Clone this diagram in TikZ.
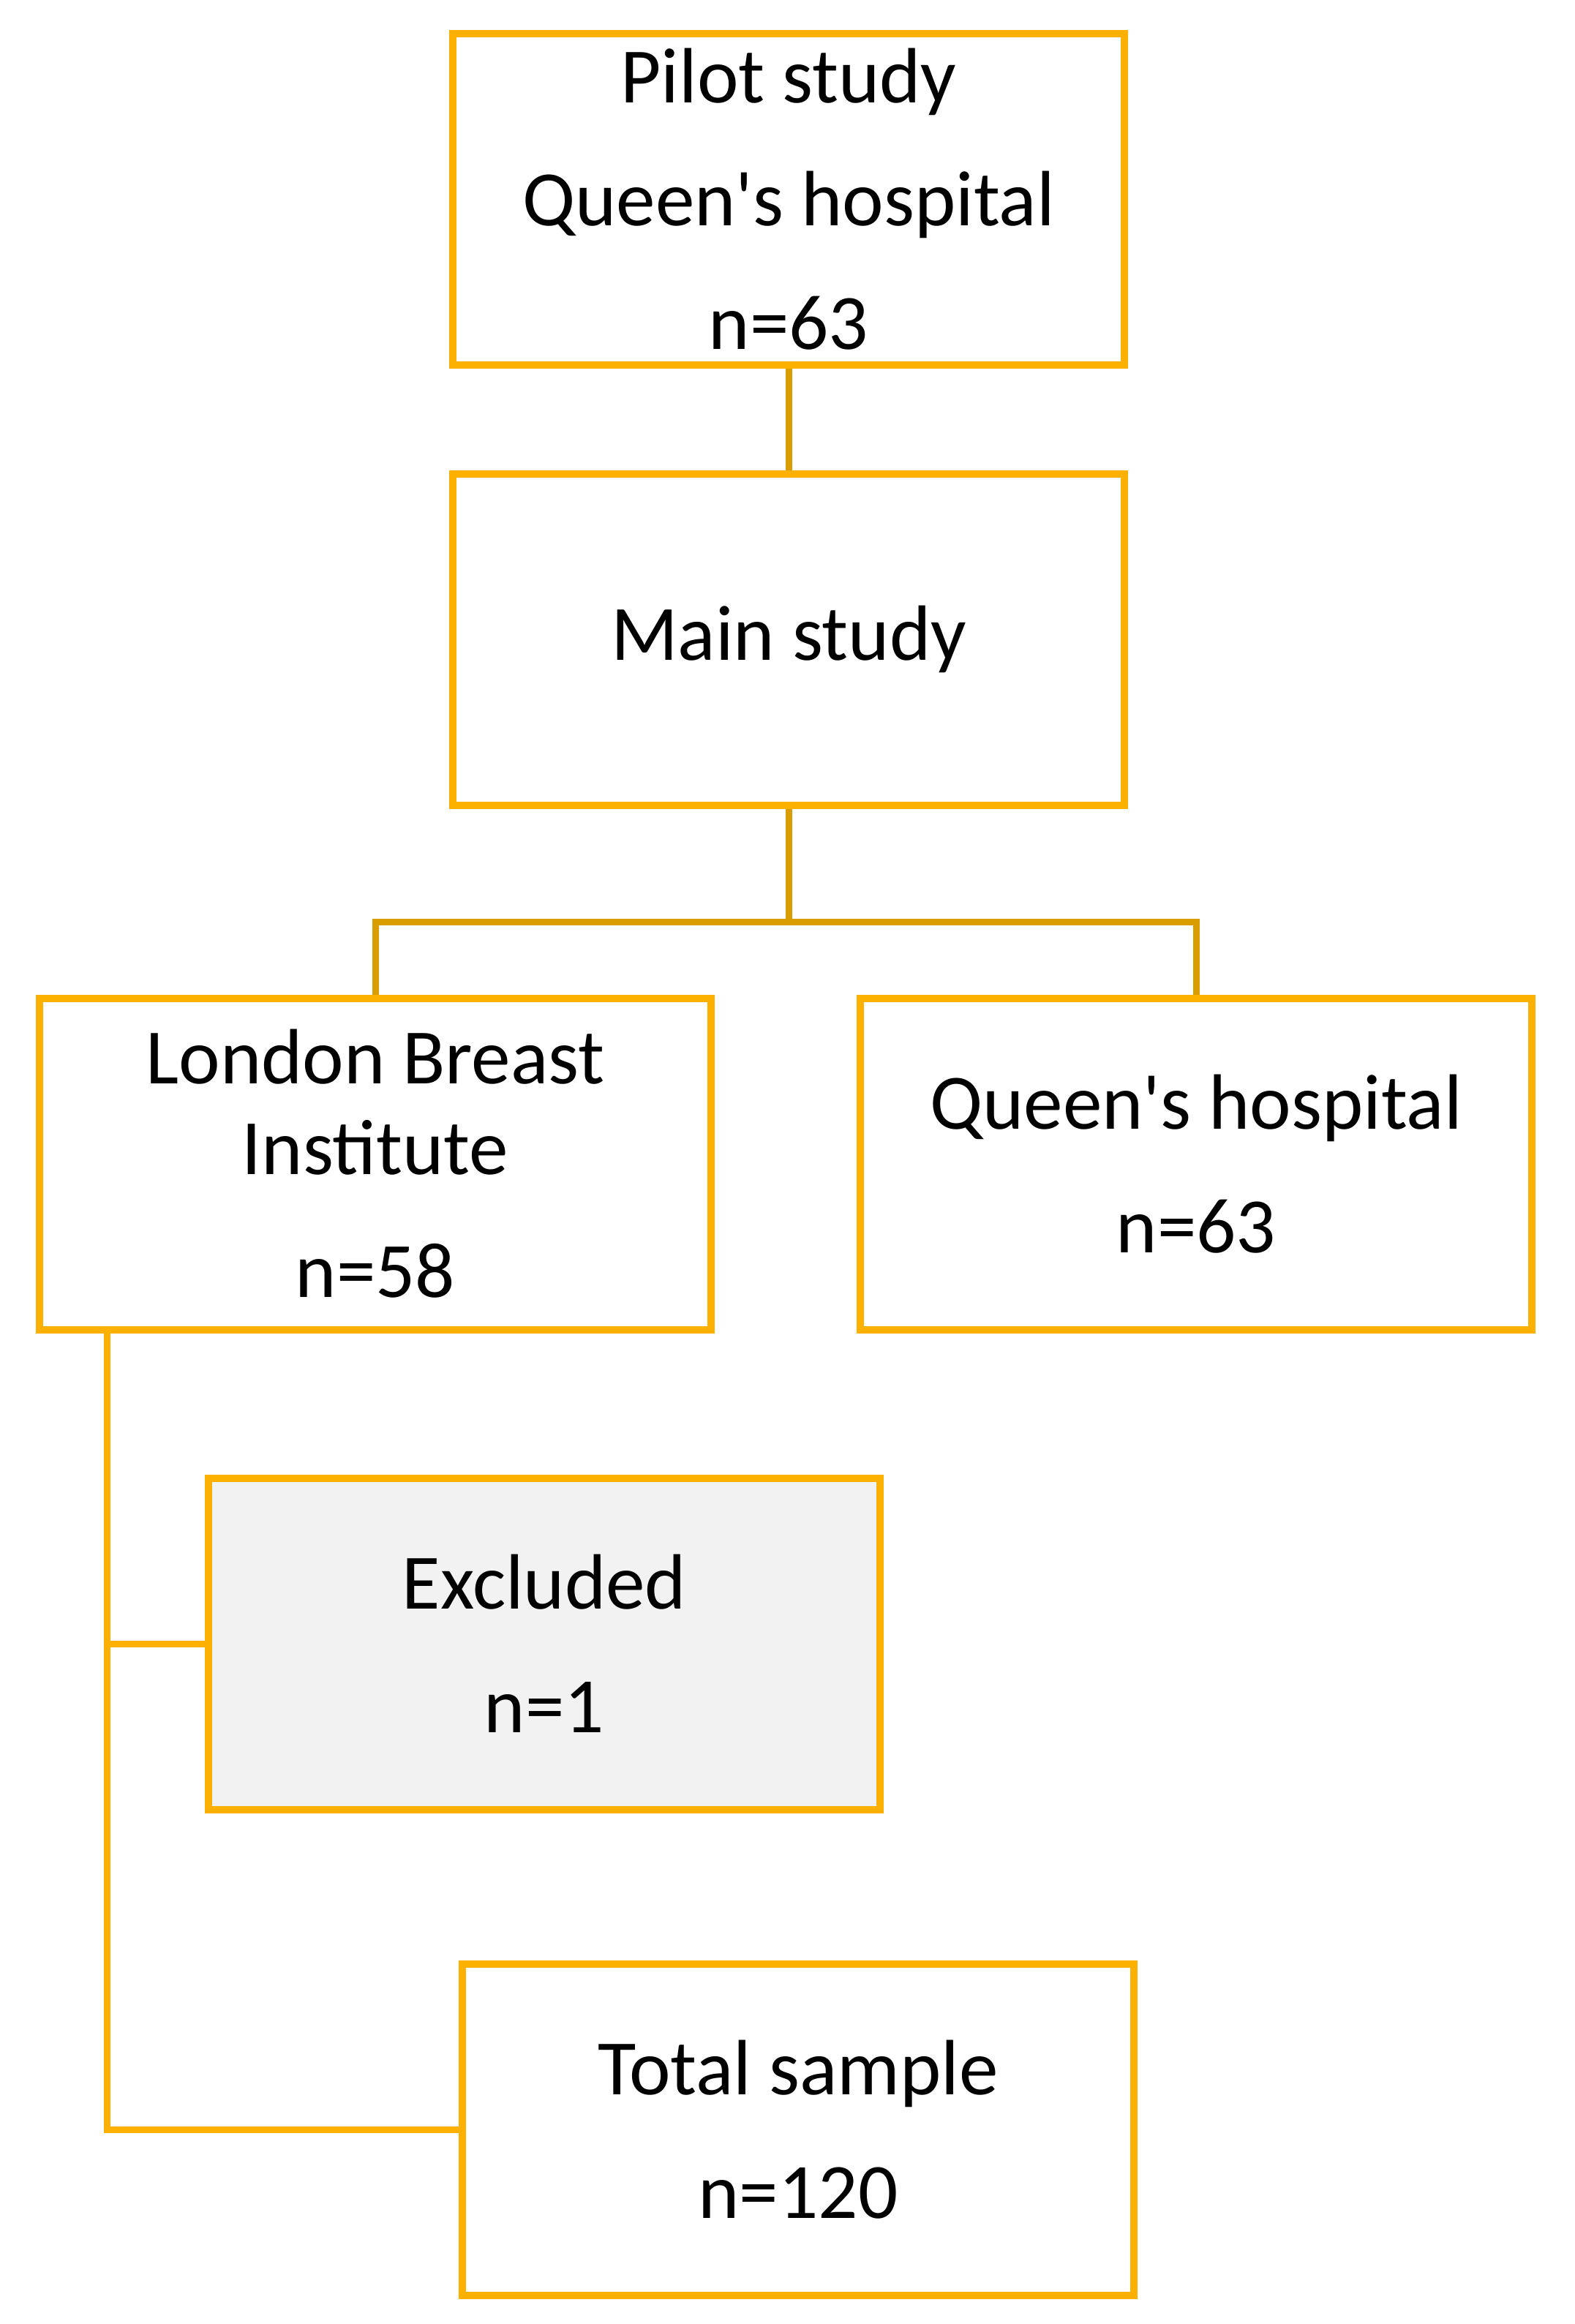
\documentclass[tikz,border=0pt]{standalone}
\usepackage{fontspec}
\setmainfont{Carlito}
\usepackage{tikz}
\usetikzlibrary{calc,positioning}
\definecolor{boxgold}{HTML}{FCB000}
\definecolor{linkgold}{HTML}{DA9D00}
\definecolor{exclgray}{HTML}{F2F2F2}

\tikzset{
  stagebox/.style={draw=boxgold, line width=0.1cm, fill=white, align=center,
    minimum width=9.18cm, minimum height=4.53cm, inner sep=0pt,
    font=\fontsize{30.5}{48}\selectfont},
  toplink/.style={draw=linkgold, line width=0.09cm},
  lowlink/.style={draw=boxgold, line width=0.09cm}
}

\begin{document}
\begin{tikzpicture}
\useasboundingbox (0cm,0cm) rectangle (21.52cm,-31.77cm);
\node[stagebox] (pilot) at (10.78cm,-2.72cm) {Pilot study\\Queen\textquotesingle s hospital\\n=63};
\node[stagebox] (main) at (10.78cm,-8.74cm) {Main study};
\node[stagebox] (london) at (5.13cm,-15.91cm) {London Breast\\[-13pt]Institute\\n=58};
\node[stagebox] (queen) at (16.35cm,-15.91cm) {Queen\textquotesingle s hospital\\n=63};
\node[stagebox, fill=exclgray] (excl) at (7.44cm,-22.47cm) {Excluded\\n=1};
\node[stagebox] (total) at (10.91cm,-29.11cm) {Total sample\\n=120};
\coordinate (split) at (10.78cm,-12.60cm);
\draw[toplink] (pilot) -- (main);
\draw[toplink] (main) -- (split);
\draw[toplink] (london.north) |- (split) -| (queen.north);
\draw[lowlink] ([xshift=0.97cm]london.south west) |- (excl.west);
\draw[lowlink] ([xshift=0.97cm]london.south west) |- (total.west);
\end{tikzpicture}
\end{document}
